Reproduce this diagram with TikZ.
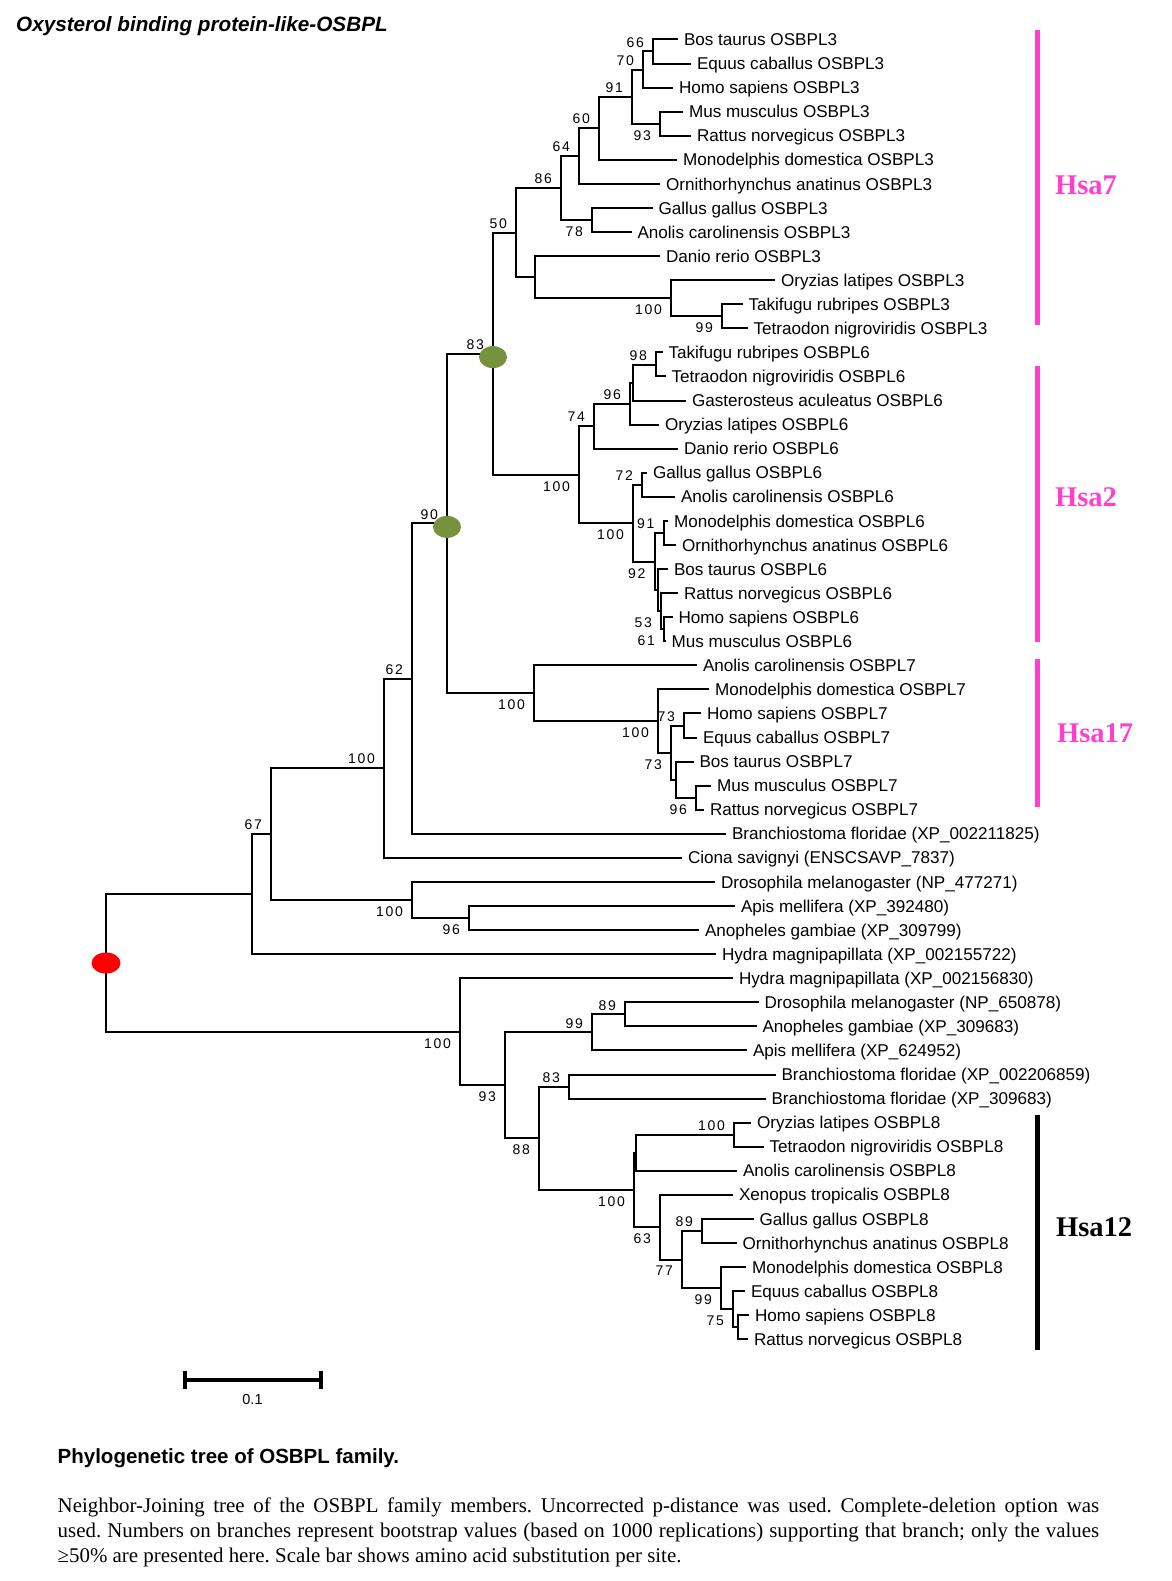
\documentclass[tikz,border=0pt]{standalone}
\usepackage{fontspec}
\setmainfont{Liberation Serif}
\setsansfont{Liberation Sans}
\newfontfamily\bootfont[LetterSpace=12]{Liberation Sans}
\usetikzlibrary{shapes.geometric}
\definecolor{hsapink}{HTML}{FF40CC}
\definecolor{dupgreen}{HTML}{76923C}
\tikzset{
  branch/.style = {line width=2pt},
  leaf/.style = {anchor=west, inner xsep=6pt, inner ysep=0pt, outer sep=0pt,
    text height=15pt, text depth=2.8pt, font=\sffamily\fontsize{17.1}{17.1}\selectfont},
  bootup/.style = {anchor=south east, inner sep=0pt, xshift=-9pt, yshift=4pt,
    font=\bootfont\fontsize{14}{14}\selectfont},
  bootdown/.style = {anchor=north east, inner sep=0pt, xshift=-9pt, yshift=-6.5pt,
    font=\bootfont\fontsize{14}{14}\selectfont},
  dupnode/.style = {ellipse, fill=dupgreen, minimum width=28pt, minimum height=22pt, inner sep=0pt},
  rootnode/.style = {ellipse, fill=red, minimum width=29pt, minimum height=21pt, inner sep=0pt},
  chrbar/.style = {line width=4.5pt},
  chrname/.style = {anchor=west, inner sep=0pt, font=\rmfamily\bfseries\fontsize{28.5}{28.5}\selectfont}
}

\begin{document}
\begin{tikzpicture}[x=1pt, y=-1pt]
  \useasboundingbox[fill=white] (0,0) rectangle (1171,1581);

  \node[anchor=base west, inner sep=0pt, font=\sffamily\bfseries\itshape\fontsize{20.7}{20.7}\selectfont]
    (title) at (16,31.5) {Oxysterol binding protein-like-OSBPL};

  % leaves
  \foreach \xe/\txt [count=\i from 0] in {
    678/Bos taurus OSBPL3, 691/Equus caballus OSBPL3, 673/Homo sapiens OSBPL3,
    683/Mus musculus OSBPL3, 691/Rattus norvegicus OSBPL3, 677/Monodelphis domestica OSBPL3,
    660/Ornithorhynchus anatinus OSBPL3, 652.5/Gallus gallus OSBPL3, 631.5/Anolis carolinensis OSBPL3,
    660/Danio rerio OSBPL3, 775/Oryzias latipes OSBPL3, 742.5/Takifugu rubripes OSBPL3,
    747.5/Tetraodon nigroviridis OSBPL3,
    662.5/Takifugu rubripes OSBPL6, 665.5/Tetraodon nigroviridis OSBPL6,
    686/Gasterosteus aculeatus OSBPL6, 659/Oryzias latipes OSBPL6, 678/Danio rerio OSBPL6,
    647/Gallus gallus OSBPL6, 675/Anolis carolinensis OSBPL6, 668/Monodelphis domestica OSBPL6,
    676/Ornithorhynchus anatinus OSBPL6, 668/Bos taurus OSBPL6, 678/Rattus norvegicus OSBPL6,
    672.5/Homo sapiens OSBPL6, 665.5/Mus musculus OSBPL6,
    697/Anolis carolinensis OSBPL7, 709/Monodelphis domestica OSBPL7, 701/Homo sapiens OSBPL7,
    697/Equus caballus OSBPL7, 693.5/Bos taurus OSBPL7, 711/Mus musculus OSBPL7,
    704/Rattus norvegicus OSBPL7,
    726/Branchiostoma floridae (XP\_002211825), 682/Ciona savignyi (ENSCSAVP\_7837),
    715/Drosophila melanogaster (NP\_477271), 735/Apis mellifera (XP\_392480),
    699/Anopheles gambiae (XP\_309799), 716/Hydra magnipapillata (XP\_002155722),
    733/Hydra magnipapillata (XP\_002156830), 758.5/Drosophila melanogaster (NP\_650878),
    756.5/Anopheles gambiae (XP\_309683), 747/Apis mellifera (XP\_624952),
    775.5/Branchiostoma floridae (XP\_002206859), 765.5/Branchiostoma floridae (XP\_309683),
    751/Oryzias latipes OSBPL8, 763.5/Tetraodon nigroviridis OSBPL8, 737/Anolis carolinensis OSBPL8,
    733/Xenopus tropicalis OSBPL8, 753.5/Gallus gallus OSBPL8, 736.5/Ornithorhynchus anatinus OSBPL8,
    746/Monodelphis domestica OSBPL8, 745/Equus caballus OSBPL8, 749/Homo sapiens OSBPL8,
    748/Rattus norvegicus OSBPL8}
    \node[leaf] (l\i) at (\xe, {39.5+24.07*\i}) {\txt};

  % inner nodes
  \coordinate (n66) at (653,51.5);    \coordinate (n70) at (643,69.6);
  \coordinate (n93) at (660,123.7);   \coordinate (n91) at (632,96.6);
  \coordinate (n60) at (599,128.2);   \coordinate (n64) at (579,156);
  \coordinate (n78) at (592,220);     \coordinate (n86) at (561,188);
  \coordinate (n99a) at (722,316.3);  \coordinate (n100a) at (671,298.3);
  \coordinate (ndan) at (535,277.2);  \coordinate (n50) at (516,232.6);
  \coordinate (n98) at (656,364.5);   \coordinate (ngas) at (633,382.5);
  \coordinate (n96a) at (630,403.5);  \coordinate (n74) at (594,426.1);
  \coordinate (n72) at (642,484.8);   \coordinate (n91b) at (663.5,533);
  \coordinate (n61) at (664,629.2);   \coordinate (n53) at (661,611.2);
  \coordinate (nbos) at (658,590.1);  \coordinate (n92) at (654.5,561.6);
  \coordinate (n100c) at (633,523.2); \coordinate (n100b) at (579,474.7);
  \coordinate (n83) at (493,353.6);
  \coordinate (n73a) at (684,725.5);  \coordinate (n96c) at (696,797.7);
  \coordinate (nbos7) at (675.5,779.7); \coordinate (n73b) at (671,752.6);
  \coordinate (n100e) at (658,721);   \coordinate (n100d) at (534,693.2);
  \coordinate (n90) at (447,523.4);
  \coordinate (n62) at (412,678.6);   \coordinate (n100f) at (384,768.3);
  \coordinate (n96d) at (469,918);    \coordinate (n100g) at (412,900);
  \coordinate (n67) at (271,834.1);   \coordinate (nhyd) at (252,894.2);
  \coordinate (n89a) at (625,1014.4); \coordinate (n99b) at (592,1032.4);
  \coordinate (n83b) at (569,1086.5); \coordinate (n100h) at (734,1134.6);
  \coordinate (nano8) at (636,1152.7); \coordinate (n89b) at (702,1231);
  \coordinate (nhr8) at (738,1327.2); \coordinate (n75) at (733,1309.2);
  \coordinate (n99c) at (721,1288.1); \coordinate (n77) at (682,1259.5);
  \coordinate (n63) at (660,1227.2);  \coordinate (n100i) at (634,1190);
  \coordinate (n88) at (539,1138.2);  \coordinate (n93b) at (505,1085.3);
  \coordinate (n100j) at (460,1031.7); \coordinate (root) at (106,963);

  % branches
  \foreach \p/\c in {n66/l0, n66/l1, n70/n66, n70/l2, n93/l3, n93/l4, n91/n70, n91/n93,
    n60/n91, n60/l5, n64/n60, n64/l6, n78/l7, n78/l8, n86/n64, n86/n78, n99a/l11, n99a/l12,
    n100a/l10, n100a/n99a, ndan/l9, ndan/n100a, n50/n86, n50/ndan,
    n98/l13, n98/l14, ngas/n98, ngas/l15, n96a/ngas, n96a/l16, n74/n96a, n74/l17,
    n72/l18, n72/l19, n91b/l20, n91b/l21, n61/l24, n61/l25, n53/l23, n53/n61,
    nbos/l22, nbos/n53, n92/n91b, n92/nbos, n100c/n72, n100c/n92, n100b/n74, n100b/n100c,
    n83/n50, n83/n100b,
    n73a/l28, n73a/l29, n96c/l31, n96c/l32, nbos7/l30, nbos7/n96c, n73b/n73a, n73b/nbos7,
    n100e/l27, n100e/n73b, n100d/l26, n100d/n100e, n90/n83, n90/n100d,
    n62/n90, n62/l33, n100f/n62, n100f/l34, n96d/l36, n96d/l37, n100g/l35, n100g/n96d,
    n67/n100f, n67/n100g, nhyd/n67, nhyd/l38,
    n89a/l40, n89a/l41, n99b/n89a, n99b/l42, n83b/l43, n83b/l44, n100h/l45, n100h/l46,
    nano8/n100h, nano8/l47, n89b/l49, n89b/l50, nhr8/l53, nhr8/l54, n75/l52, n75/nhr8,
    n99c/l51, n99c/n75, n77/n89b, n77/n99c, n63/l48, n63/n77, n100i/nano8, n100i/n63,
    n88/n83b, n88/n100i, n93b/n99b, n93b/n88, n100j/l39, n100j/n93b, root/nhyd, root/n100j}
    \draw[branch] (\p) |- (\c);

  % bootstrap values
  \foreach \n/\v in {n66/66, n70/70, n91/91, n60/60, n64/64, n86/86, n50/50, n98/98,
    n96a/96, n74/74, n72/72, n91b/91, n83/83, n73a/73, n90/90, n62/62, n100f/100, n67/67,
    n89a/89, n99b/99, n83b/83, n100h/100, n89b/89}
    \node[bootup] at (\n) {\v};
  \foreach \n/\v in {n93/93, n78/78, n99a/99, n100a/100, n100b/100, n100c/100, n92/92,
    n53/53, n61/61, n100d/100, n100e/100, n73b/73, n96c/96, n100g/100, n96d/96, n75/75,
    n99c/99, n77/77, n63/63, n100i/100, n88/88, n93b/93, n100j/100}
    \node[bootdown] at (\n) {\v};

  \node[dupnode] (dup83) at ([yshift=-3.5pt]n83) {};
  \node[dupnode] (dup90) at ([yshift=-3.5pt]n90) {};
  \node[rootnode] (rootdot) at (root) {};

  % chromosome bars
  \draw[chrbar, hsapink] (1037.5,30.3) -- (1037.5,324.8);
  \draw[chrbar, hsapink] (1037.5,366) -- (1037.5,641.5);
  \draw[chrbar, hsapink] (1037.5,658.6) -- (1037.5,807);
  \draw[chrbar, black] (1037.5,1114.5) -- (1037.5,1349.5);
  \node[chrname, text=hsapink] (hsa7) at (1055,185) {Hsa7};
  \node[chrname, text=hsapink] (hsa2) at (1055,497) {Hsa2};
  \node[chrname, text=hsapink] (hsa17) at (1057,733) {Hsa17};
  \node[chrname] (hsa12) at (1056,1227.5) {Hsa12};

  % scale bar
  \draw[line width=4pt] (184.6,1380) -- (320.7,1380);
  \draw[line width=4pt] (184.6,1371) -- (184.6,1389) (320.7,1371) -- (320.7,1389);
  \node[font=\sffamily\fontsize{14.5}{14.5}\selectfont, inner sep=0pt] (scale) at (252.5,1399) {0.1};

  % caption
  \node[anchor=base west, inner sep=0pt, font=\sffamily\bfseries\fontsize{20.5}{20.5}\selectfont]
    (caphead) at (57.5,1463) {Phylogenetic tree of OSBPL family.};
  \node[anchor=north west, inner sep=0pt, text width=1041.5pt, align=justify,
    font=\rmfamily\fontsize{20.9}{25}\selectfont] (captext) at (57.5,1498)
    {\frenchspacing\hyphenpenalty=10000 Neighbor-Joining tree of the OSBPL family members. Uncorrected p-distance was used. Complete-deletion option was\linebreak
     used. Numbers on branches represent bootstrap values (based on 1000 replications) supporting that branch; only the values\linebreak
     ≥50\% are presented here. Scale bar shows amino acid substitution per site.};
\end{tikzpicture}
\end{document}
